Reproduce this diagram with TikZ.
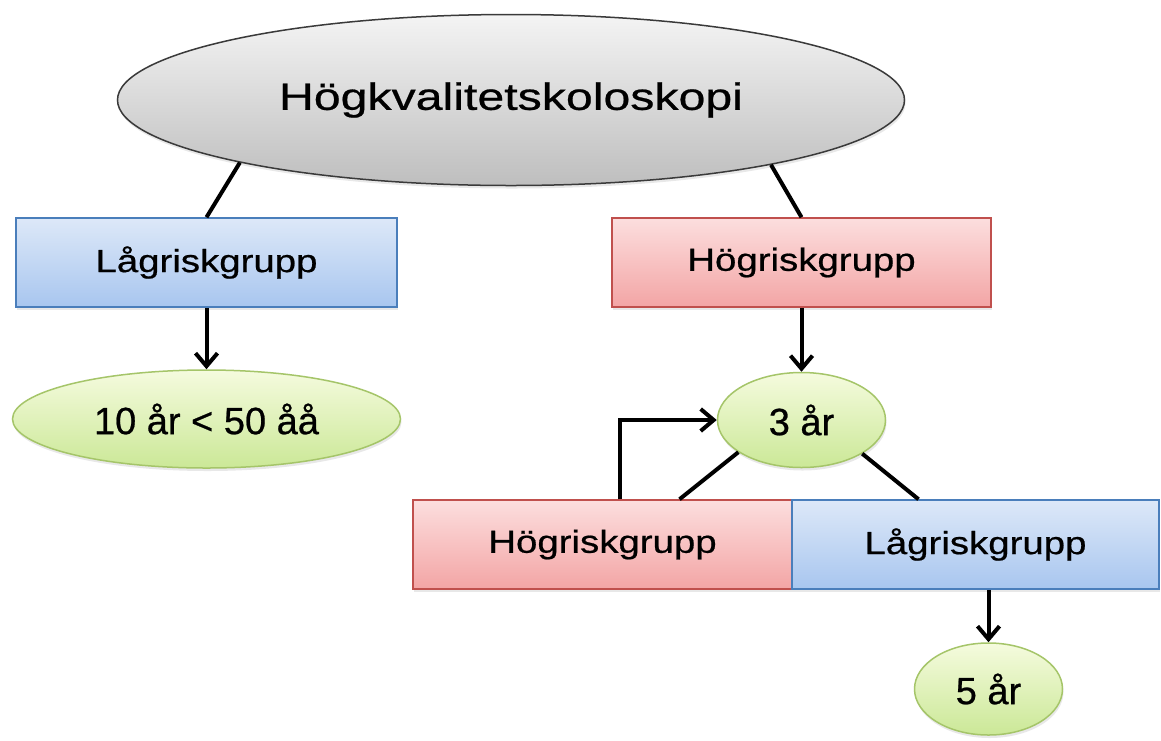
\documentclass[tikz,border=0pt]{standalone}
\usepackage{fontspec}
\setmainfont[FakeBold=0.6]{Liberation Sans}
\newfontfamily\boxfont[FakeStretch=1.2,FakeBold=0.6]{Liberation Sans}
\newfontfamily\titlefont[FakeStretch=1.27,FakeBold=0.6]{Liberation Sans}
\usetikzlibrary{shapes.geometric,arrows.meta,shadows,calc}
\definecolor{grayTop}{HTML}{F4F4F4}
\definecolor{grayBot}{HTML}{BEBEBE}
\definecolor{grayLine}{HTML}{3A3A3A}
\definecolor{blueTop}{HTML}{DDE8F8}
\definecolor{blueBot}{HTML}{A8C6EF}
\definecolor{blueLine}{HTML}{4A7EBB}
\definecolor{redTop}{HTML}{FCDEDE}
\definecolor{redBot}{HTML}{F3A5A5}
\definecolor{redLine}{HTML}{C0504D}
\definecolor{greenTop}{HTML}{F5FBDE}
\definecolor{greenBot}{HTML}{CBE897}
\definecolor{greenLine}{HTML}{A5C569}
\tikzset{
  shad/.style={drop shadow={opacity=0.18, shadow xshift=1pt, shadow yshift=-3pt}},
  titlenode/.style={ellipse, draw=grayLine, line width=1.5pt, top color=grayTop, bottom color=grayBot, shad, inner sep=0pt, font=\titlefont\fontsize{38}{44}\selectfont},
  bluebox/.style={rectangle, draw=blueLine, line width=1.5pt, top color=blueTop, bottom color=blueBot, shad, inner sep=0pt, minimum height=89pt, font=\boxfont\fontsize{32}{38}\selectfont},
  redbox/.style={rectangle, draw=redLine, line width=1.5pt, top color=redTop, bottom color=redBot, shad, inner sep=0pt, minimum height=89pt, font=\boxfont\fontsize{32}{38}\selectfont},
  greenell/.style={ellipse, draw=greenLine, line width=1.5pt, top color=greenTop, bottom color=greenBot, shad, inner sep=0pt, font=\fontsize{38}{44}\selectfont},
  conn/.style={line width=4pt, black},
  arr/.style={conn, -{Straight Barb[length=13pt, width=22pt, line width=4pt]}},
}
\begin{document}
\begin{tikzpicture}[x=1pt, y=-1pt]
\useasboundingbox[fill=white] (0,0) rectangle (1161,740);

\node[titlenode, minimum width=787pt, minimum height=171pt] (top) at (511,100) {Högkvalitetskoloskopi};

\node[bluebox, minimum width=381pt] (low1) at (206.5,262.5) {Lågriskgrupp};
\node[redbox, minimum width=379pt] (high1) at (801.5,262.5) {Högriskgrupp};

\node[greenell, minimum width=388pt, minimum height=98pt] (ten) at (206.5,419) {10 år < 50 åå};
\node[greenell, minimum width=168pt, minimum height=95pt] (three) at (801.5,420) {3 år};

\node[redbox, minimum width=379pt] (high2) at (602.5,544.5) {Högriskgrupp};
\node[bluebox, minimum width=367pt] (low2) at (975.5,544.5) {Lågriskgrupp};

\node[greenell, minimum width=148pt, minimum height=92pt] (five) at (988.5,689) {5 år};

\draw[conn] (top.193) -- (low1.north);
\draw[conn] (top.346) -- (high1.north);
\draw[arr] (low1.south) -- (ten.north);
\draw[arr] (high1.south) -- (three.north);
\draw[conn] (three.207) -- ([xshift=77pt]high2.north);
\draw[conn] (three.331) -- ([xshift=-57pt]low2.north);
\draw[arr] ([xshift=17pt]high2.north) |- (three.west);
\draw[arr] (five.north |- low2.south) -- (five.north);
\end{tikzpicture}
\end{document}
